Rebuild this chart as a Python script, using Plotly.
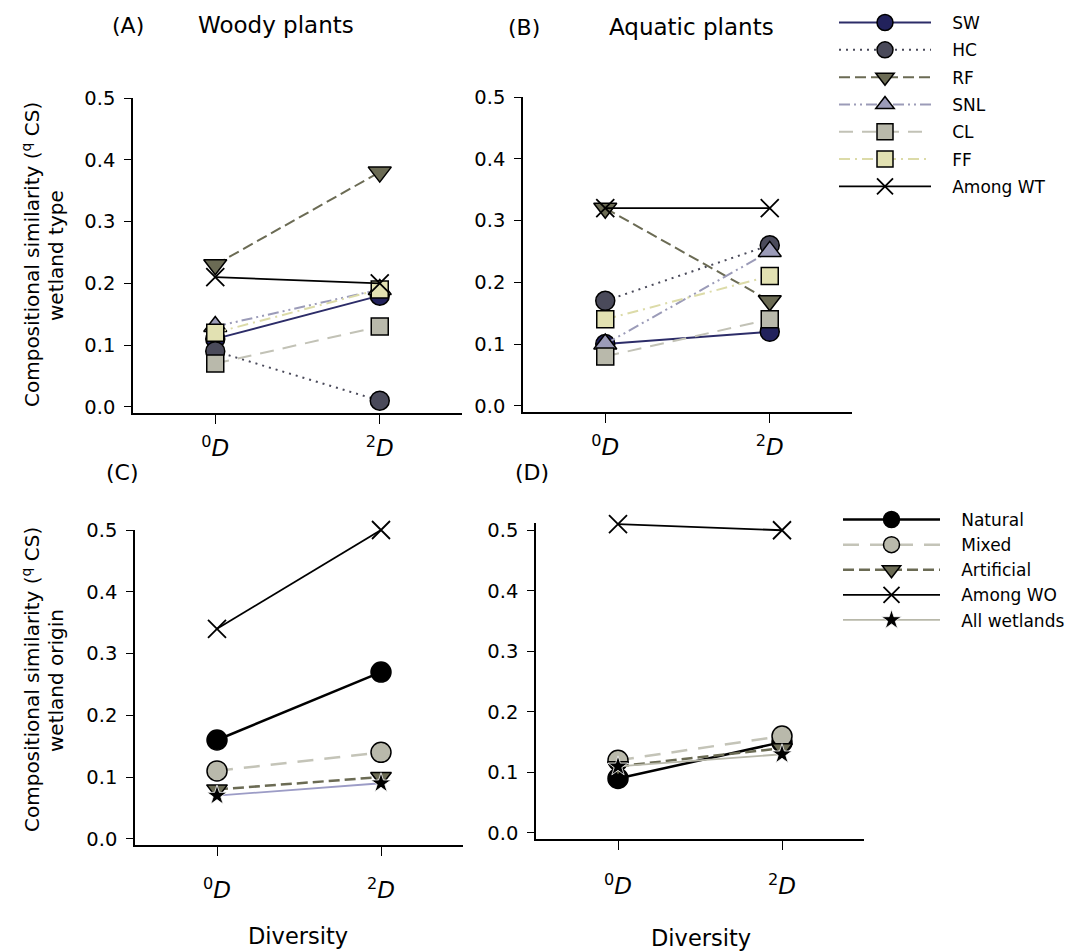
import plotly.graph_objects as go

# ---------------- data ----------------
diversity_levels = [0, 2]
diversity_labels = ["<sup>0</sup><i>D</i>", "<sup>2</sup><i>D</i>"]

type_names = ["SW", "HC", "RF", "SNL", "CL", "FF", "Among WT"]
woody_sw = [0.11, 0.18]
woody_hc = [0.09, 0.01]
woody_rf = [0.23, 0.38]
woody_snl = [0.13, 0.19]
woody_cl = [0.07, 0.13]
woody_ff = [0.12, 0.19]
woody_among_wt = [0.21, 0.20]

aquatic_sw = [0.10, 0.12]
aquatic_hc = [0.17, 0.26]
aquatic_rf = [0.32, 0.17]
aquatic_snl = [0.10, 0.25]
aquatic_cl = [0.08, 0.14]
aquatic_ff = [0.14, 0.21]
aquatic_among_wt = [0.32, 0.32]

origin_names = ["Natural", "Mixed", "Artificial", "Among WO", "All wetlands"]
woody_natural = [0.16, 0.27]
woody_mixed = [0.11, 0.14]
woody_artificial = [0.08, 0.10]
woody_among_wo = [0.34, 0.50]
woody_all = [0.07, 0.09]

aquatic_natural = [0.09, 0.15]
aquatic_mixed = [0.12, 0.16]
aquatic_artificial = [0.11, 0.14]
aquatic_among_wo = [0.51, 0.50]
aquatic_all = [0.11, 0.13]

y_ticks = [0, 0.1, 0.2, 0.3, 0.4, 0.5]

# ---------------- styles ----------------
type_styles = {
    "SW": dict(symbol="circle", fill="#22225c", lcolor="#2c2c68", dash="solid", size=19),
    "HC": dict(symbol="circle", fill="#4a4a5a", lcolor="#4a4a5a", dash="2px,5px", size=19),
    "RF": dict(symbol="triangle-down", fill="#6b6b54", lcolor="#6b6b54", dash="11px,5px", size=20),
    "SNL": dict(symbol="triangle-up", fill="#9b9bb8", lcolor="#9b9bb8", dash="11px,4px,2px,4px,2px,4px", size=20),
    "CL": dict(symbol="square", fill="#b9b9ab", lcolor="#c2c2b6", dash="14px,9px", size=17),
    "FF": dict(symbol="square", fill="#e2e1b2", lcolor="#dcdba8", dash="11px,5px,2px,5px", size=17),
    "Among WT": dict(symbol="x-thin", fill="#000000", lcolor="#000000", dash="solid", size=18),
}
origin_styles = {
    "Natural": dict(symbol="circle", fill="#000000", lcolor="#000000", dash="solid", size=20, lw=2.5),
    "Mixed": dict(symbol="circle", fill="#b9b9ab", lcolor="#c4c4b8", dash="16px,11px", size=20, lw=2.5),
    "Artificial": dict(symbol="triangle-down", fill="#6b6b54", lcolor="#6b6b54", dash="11px,5px", size=18, lw=2.5),
    "Among WO": dict(symbol="x-thin", fill="#000000", lcolor="#000000", dash="solid", size=18, lw=1.8),
    "All wetlands": dict(symbol="star", fill="#000000", lcolor="#b8b8aa", dash="solid", size=15, lw=1.8),
}

FONT = "DejaVu Sans"
PAD = "\u00a0\u00a0\u00a0"  # gap between legend key and label
fig = go.Figure()

def add_type_traces(series, xa, ya, show):
    for rank, (name, vals) in enumerate(zip(type_names, series)):
        st = type_styles[name]
        if st["symbol"] == "x-thin":
            marker = dict(symbol="x-thin", size=st["size"], line=dict(color="#000000", width=1.8))
        else:
            marker = dict(symbol=st["symbol"], size=st["size"], color=st["fill"],
                          line=dict(color="#000000", width=1.5))
        fig.add_trace(go.Scatter(
            x=diversity_levels, y=vals, name=PAD + name, mode="lines+markers",
            line=dict(color=st["lcolor"], width=2 if name != "Among WT" else 1.8, dash=st["dash"]),
            marker=marker, xaxis=xa, yaxis=ya, cliponaxis=False,
            showlegend=show, legend="legend", legendgroup=name, legendrank=rank + 1,
        ))

def add_origin_traces(series, xa, ya, show, all_color=None):
    for rank, (name, vals) in enumerate(zip(origin_names, series)):
        st = origin_styles[name]
        if st["symbol"] == "x-thin":
            marker = dict(symbol="x-thin", size=st["size"], line=dict(color="#000000", width=1.8))
        elif st["symbol"] == "star":
            marker = dict(symbol="star", size=st["size"], color="#000000",
                          line=dict(color="#ffffff", width=0.8))
        else:
            marker = dict(symbol=st["symbol"], size=st["size"], color=st["fill"],
                          line=dict(color="#000000", width=1.5))
        lc = st["lcolor"]
        if name == "All wetlands" and all_color:
            lc = all_color
        fig.add_trace(go.Scatter(
            x=diversity_levels, y=vals, name=PAD + name, mode="lines+markers",
            line=dict(color=lc, width=st["lw"], dash=st["dash"]),
            marker=marker, xaxis=xa, yaxis=ya, cliponaxis=False,
            showlegend=show, legend="legend2", legendgroup="o" + name, legendrank=rank + 1,
        ))

add_type_traces([woody_sw, woody_hc, woody_rf, woody_snl, woody_cl, woody_ff, woody_among_wt], "x", "y", True)
add_type_traces([aquatic_sw, aquatic_hc, aquatic_rf, aquatic_snl, aquatic_cl, aquatic_ff, aquatic_among_wt], "x2", "y2", False)
add_origin_traces([woody_natural, woody_mixed, woody_artificial, woody_among_wo, woody_all], "x3", "y3", False, all_color="#9c9cc6")
add_origin_traces([aquatic_natural, aquatic_mixed, aquatic_artificial, aquatic_among_wo, aquatic_all], "x4", "y4", True)

# page body has an 8px margin: figure is placed at (8, 8) in the window
OFF = 8
W, H = 1078 - OFF, 951 - OFF
def px(x):
    return (x - OFF) / W
def py(y):
    return 1 - (y - OFF) / H

common_x = dict(range=[-1, 3], tickvals=diversity_levels, ticktext=diversity_labels,
                showline=True, linecolor="#000000", linewidth=1.6, ticks="outside",
                ticklen=9, tickwidth=1.4, tickcolor="#000000", showgrid=False, zeroline=False,
                tickfont=dict(family=FONT, size=23, color="#000000"), fixedrange=True,
                automargin=False)
common_y = dict(tickvals=y_ticks, tickformat=".1f",
                showline=True, linecolor="#000000", linewidth=1.6, ticks="outside",
                ticklen=7, tickwidth=1.4, tickcolor="#000000", showgrid=False, zeroline=False,
                tickfont=dict(family=FONT, size=19.5, color="#000000"), fixedrange=True,
                automargin=False, ticklabelstandoff=5)

fig.update_layout(
    width=W, height=H, margin=dict(l=0, r=0, t=0, b=0, autoexpand=False),
    paper_bgcolor="#ffffff", plot_bgcolor="#ffffff",
    font=dict(family=FONT, color="#000000"),
    xaxis=dict(common_x, domain=[px(133), px(462)], anchor="y", ticklabelstandoff=5),
    yaxis=dict(common_y, domain=[py(413), py(98)], range=[-0.01, 0.5], anchor="x"),
    xaxis2=dict(common_x, domain=[px(523), px(852)], anchor="y2", ticklabelstandoff=5),
    yaxis2=dict(common_y, domain=[py(412), py(97)], range=[-0.01, 0.5], anchor="x2"),
    xaxis3=dict(common_x, domain=[px(135), px(463)], anchor="y3", ticklabelstandoff=15),
    yaxis3=dict(common_y, domain=[py(845), py(530)], range=[-0.01, 0.5], anchor="x3"),
    xaxis4=dict(common_x, domain=[px(536), px(864)], anchor="y4", ticklabelstandoff=17),
    yaxis4=dict(common_y, domain=[py(839), py(523)], range=[-0.01, 0.512], anchor="x4"),
    legend=dict(x=px(834), y=py(5), xanchor="left", yanchor="top", bgcolor="rgba(0,0,0,0)",
                font=dict(family=FONT, size=17, color="#000000"), tracegroupgap=2.2,
                itemwidth=92, traceorder="grouped"),
    legend2=dict(x=px(838), y=py(502), xanchor="left", yanchor="top", bgcolor="rgba(0,0,0,0)",
                 font=dict(family=FONT, size=17, color="#000000"), tracegroupgap=0,
                 itemwidth=97, traceorder="grouped"),
    showlegend=True,
)

ann = []
def text(x, y, s, size, angle=0):
    ann.append(dict(x=px(x), y=py(y), xref="paper", yref="paper", text=s, showarrow=False,
                    font=dict(family=FONT, size=size, color="#000000"), textangle=angle,
                    xanchor="center", yanchor="middle"))

text(128, 25, "(A)", 22)
text(276, 25, "Woody plants", 23)
text(524, 27, "(B)", 22)
text(691, 27, "Aquatic plants", 23)
text(122, 472, "(C)", 22)
text(532, 472, "(D)", 22)
text(298, 936, "Diversity", 22.5)
text(701, 938, "Diversity", 22.5)
ylab = "Compositional similarity (<sup>q</sup> CS)"
text(31, 255, ylab, 20, -90)
text(56, 255, "wetland type", 20, -90)
text(31, 680, ylab, 20, -90)
text(56, 680, "wetland origin", 20, -90)
fig.update_layout(annotations=ann)

fig.write_html("out.html")
